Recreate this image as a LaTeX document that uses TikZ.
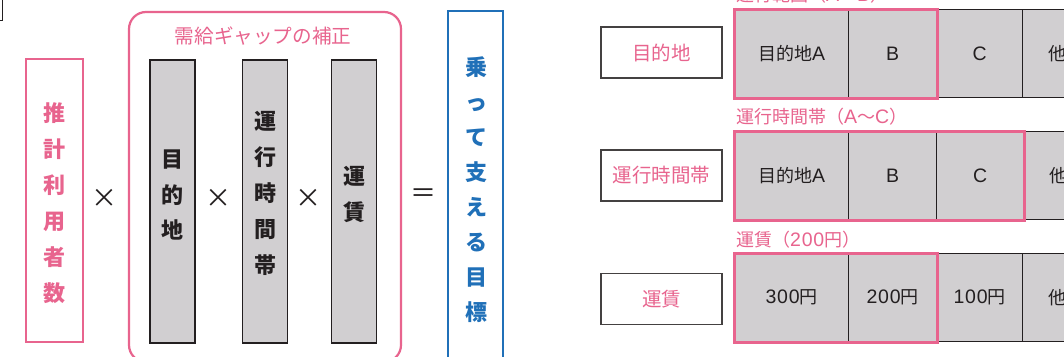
\documentclass[tikz,border=0pt]{standalone}
\usepackage{fontspec}
\newfontfamily\cjk{Noto Sans CJK JP}
\newfontfamily\lat[LetterSpace=4]{Liberation Sans}
\definecolor{pk}{HTML}{E8648E}
\definecolor{bl}{HTML}{2070B8}
\definecolor{cg}{HTML}{D1CFD1}
\definecolor{tx}{HTML}{231F20}
\tikzset{
  vtext/.style={align=center,inner sep=0pt},
  graybar/.style={draw=tx,fill=cg,line width=1.8pt,inner sep=0pt},
  cell/.style={draw=tx,fill=cg,line width=1.3pt,inner sep=0pt,anchor=north west,
     minimum height=88pt,font=\cjk\fontsize{18}{20}\selectfont,text=tx},
  lbox/.style={draw=tx!85,line width=1.2pt,fill=white,minimum width=121pt,minimum height=51pt,
     inner sep=0pt,font=\cjk\fontsize{19.5}{22}\selectfont,text=pk},
  pkframe/.style={draw=pk,line width=3pt},
  op/.style={font=\cjk\fontsize{26}{26}\selectfont,text=tx,inner sep=0pt},
  toplabel/.style={anchor=west,inner sep=0pt,font=\cjk\fontsize{18}{20}\selectfont,text=pk}
}
\newcommand{\latn}[1]{{\lat\fontsize{19.5}{20}\selectfont #1}}
\begin{document}
\begin{tikzpicture}[x=1pt,y=-1pt]
\useasboundingbox (0,0) rectangle (1064,356);
\clip (0,0) rectangle (1064,356);
\fill[white] (0,0) rectangle (1064,356);
% corner artifact
\draw[tx,line width=1pt] (0,20) -- (2.5,20) -- (2.5,0);
% left box
\node[draw=pk,line width=2.2pt,minimum width=57pt,minimum height=283pt,inner sep=0pt] (est) at (54.5,200.5) {};
\node[vtext,text=pk,font=\cjk\bfseries\fontsize{22}{36}\selectfont] (estt) at (54,203) {推\\計\\利\\用\\者\\数};
\node[op] (x1) at (104,198) {×};
% rounded group
\draw[pk,line width=2.2pt,rounded corners=17pt] (129,12) rectangle (401,362);
\node[text=pk,font=\cjk\fontsize{19.6}{22}\selectfont,inner sep=0pt] (gtitle) at (263,36) {需給ギャップの補正};
% gray bars
\node[graybar,minimum width=45pt,minimum height=283pt] (b1) at (172.5,201.5) {};
\node[vtext,text=tx,font=\cjk\bfseries\fontsize{22}{35.5}\selectfont] (b1t) at (172,195) {目\\的\\地};
\node[op] (x2) at (218,198) {×};
\node[graybar,minimum width=45pt,minimum height=283pt] (b2) at (265,201.5) {};
\node[vtext,text=tx,font=\cjk\bfseries\fontsize{22}{36}\selectfont] (b2t) at (265,193.5) {運\\行\\時\\間\\帯};
\node[op] (x3) at (308,198) {×};
\node[graybar,minimum width=45pt,minimum height=283pt] (b3) at (354,201.5) {};
\node[vtext,text=tx,font=\cjk\bfseries\fontsize{22}{35.5}\selectfont] (b3t) at (354,194.5) {運\\賃};
\node[op] (eq) at (423,196) {＝};
% blue box
\draw[bl,line width=2.2pt] (448,11) rectangle (503,362);
\node[vtext,text=bl,font=\cjk\bfseries\fontsize{22}{35}\selectfont] (goal) at (476,190) {乗\\っ\\て\\支\\え\\る\\目\\標};
% ---- right side rows
% row 1
\node[lbox] (l1) at (661.5,52.5) {目的地};
\node[cell,minimum width=114pt] (r1a) at (734,9) {目的地\latn{A}};
\node[cell,minimum width=88pt] (r1b) at (848,9) {\latn{B}};
\node[cell,minimum width=86pt] (r1c) at (936,9) {\latn{C}};
\node[cell,minimum width=70pt] (r1d) at (1022,9) {他};
\draw[pkframe] (r1a.north west) rectangle (r1b.south east);
\node[toplabel] (t1) at (736,-5) {運行範囲（\latn{A}〜\latn{B}）};
% row 2
\node[lbox] (l2) at (661.5,175.5) {運行時間帯};
\node[cell,minimum width=114pt] (r2a) at (734,131) {目的地\latn{A}};
\node[cell,minimum width=88pt] (r2b) at (848,131) {\latn{B}};
\node[cell,minimum width=87pt] (r2c) at (936,131) {\latn{C}};
\node[cell,minimum width=70pt] (r2d) at (1023,131) {他};
\draw[pkframe] (r2a.north west) rectangle (r2c.south east);
\node[toplabel] (t2) at (736,117) {運行時間帯（\latn{A}〜\latn{C}）};
% row 3
\node[lbox] (l3) at (661.5,299) {運賃};
\node[cell,minimum width=114pt] (r3a) at (734,253) {\latn{300}円};
\node[cell,minimum width=88pt] (r3b) at (848,253) {\latn{200}円};
\node[cell,minimum width=86pt] (r3c) at (936,253) {\latn{100}円};
\node[cell,minimum width=70pt] (r3d) at (1022,253) {他};
\draw[pkframe] (r3a.north west) rectangle (r3b.south east);
\node[toplabel] (t3) at (736,240) {運賃（\latn{200}円）};
\end{tikzpicture}
\end{document}
